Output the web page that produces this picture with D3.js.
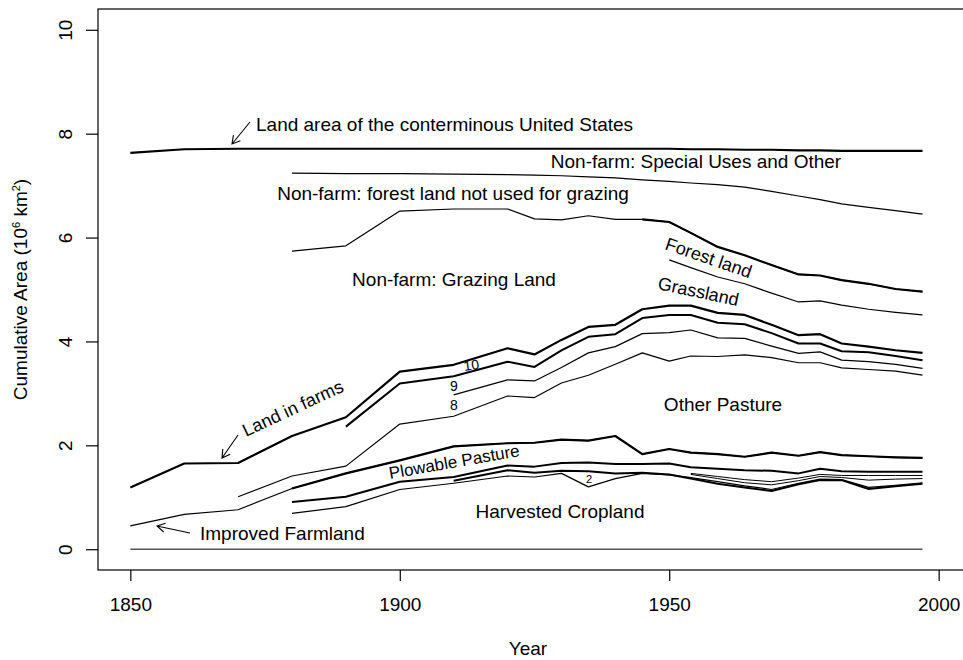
<!DOCTYPE html>
<html>
<head>
<meta charset="utf-8">
<script src="https://cdn.jsdelivr.net/npm/d3@7"></script>
<style>
body { margin: 0; background: #fff; }
svg { display: block; font-family: "Liberation Sans", Arial, Helvetica, sans-serif; }
</style>
</head>
<body>
<svg width="963" height="660"></svg>
<script>
// census years
var years = [1850,1860,1870,1880,1890,1900,1910,1920,1925,1930,1935,1940,1945,1950,1954,1959,1964,1969,1974,1978,1982,1987,1992,1997];
var N = null;
var landArea    = [7.63,7.70,7.71,7.71,7.71,7.71,7.71,7.71,7.71,7.71,7.71,7.71,7.71,7.71,7.70,7.70,7.69,7.69,7.68,7.68,7.67,7.67,7.67,7.67];
var specialUses = [N,N,N,7.24,7.23,7.23,7.22,7.21,7.20,7.19,7.17,7.15,7.11,7.08,7.05,7.02,6.97,6.89,6.80,6.73,6.65,6.58,6.52,6.45];
var grazingTop  = [N,N,N,5.74,5.84,6.51,6.55,6.55,6.36,6.34,6.42,6.35,6.35,6.30,6.09,5.82,5.66,5.47,5.29,5.27,5.18,5.11,5.01,4.96];
var grassland   = [N,N,N,N,N,N,N,N,N,N,N,N,N,5.57,5.42,5.24,5.11,4.93,4.76,4.78,4.70,4.62,4.56,4.51];
var landInFarms = [1.19,1.65,1.66,2.18,2.54,3.42,3.55,3.87,3.75,4.03,4.28,4.32,4.62,4.69,4.69,4.55,4.51,4.32,4.12,4.14,3.96,3.90,3.83,3.78];
var farm10      = [N,N,N,N,2.36,3.19,3.33,3.61,3.51,3.83,4.09,4.14,4.45,4.51,4.51,4.36,4.33,4.16,3.96,3.96,3.81,3.79,3.72,3.64];
var farm9       = [N,N,N,N,N,N,2.97,3.26,3.24,3.50,3.78,3.90,4.15,4.17,4.22,4.07,4.06,3.91,3.77,3.80,3.64,3.61,3.56,3.48];
var farm8       = [N,N,1.01,1.41,1.60,2.41,2.56,2.95,2.92,3.20,3.35,3.56,3.78,3.62,3.72,3.71,3.74,3.69,3.59,3.59,3.49,3.46,3.43,3.35];
var improved    = [0.45,0.67,0.76,1.17,1.46,1.71,1.98,2.04,2.05,2.11,2.09,2.18,1.83,1.93,1.86,1.83,1.78,1.86,1.80,1.87,1.81,1.79,1.77,1.76];
var plowable    = [N,N,N,0.91,1.01,1.30,1.39,1.61,1.59,1.66,1.67,1.64,1.64,1.65,1.58,1.55,1.52,1.51,1.46,1.55,1.50,1.49,1.49,1.49];
var cropC       = [N,N,N,0.69,0.82,1.15,1.27,1.41,1.39,1.46,1.20,1.36,1.46,1.43,1.38,1.30,1.22,1.15,1.27,1.35,1.34,1.19,1.23,1.28];
var cropD       = [N,N,N,N,N,N,1.32,1.52,1.47,1.51,1.50,1.46,1.47,1.44,1.36,1.26,1.19,1.12,1.25,1.33,1.33,1.16,1.21,1.26];
var cropE1      = [N,N,N,N,N,N,N,N,N,N,N,N,N,N,1.46,1.40,1.34,1.30,1.37,1.44,1.42,1.42,1.42,1.42];
var cropE2      = [N,N,N,N,N,N,N,N,N,N,N,N,N,N,1.44,1.36,1.28,1.24,1.32,1.40,1.38,1.33,1.35,1.36];
var zeroLine    = [0,0,0,0,0,0,0,0,0,0,0,0,0,0,0,0,0,0,0,0,0,0,0,0];
var xTicks = [1850,1900,1950,2000];
var yTicks = [0,2,4,6,8,10];

var svg = d3.select('svg');
var x = d3.scaleLinear().domain([1844,2006]).range([98,971]);
var y = d3.scaleLinear().domain([-0.4,10.4]).range([570,9]);

var line = d3.line()
  .defined(function(d){ return d[1] != null; })
  .x(function(d){ return x(d[0]); })
  .y(function(d){ return y(d[1]); });

function draw(vals, w, col) {
  var pts = years.map(function(yr,i){ return [yr, vals[i]]; });
  svg.append('path').attr('d', line(pts)).attr('fill','none')
    .attr('stroke', col || 'black').attr('stroke-width', w)
    .attr('stroke-linejoin','round');
}

draw(zeroLine, 1.5, '#555');
draw(landArea, 2.2);
draw(specialUses, 1.2);
draw(grazingTop, 1.2);
// forest land part drawn heavier
draw(grazingTop.map(function(v,i){ return years[i] >= 1945 ? v : null; }), 2.2);
draw(grassland, 1.2);
draw(landInFarms, 2.2);
draw(farm10, 2);
draw(farm9, 1.2);
draw(farm8, 1.2);
draw(improved, 1.2);
draw(improved.map(function(v,i){ return years[i] >= 1880 ? v : null; }), 2.2);
draw(plowable, 2);
draw(cropC, 1.2);
draw(cropD, 2);
draw(cropE1, 1);
draw(cropE2, 1);

// box
svg.append('rect').attr('x',98).attr('y',9).attr('width',873).attr('height',561)
  .attr('fill','none').attr('stroke','black').attr('stroke-width',1.2);

// axes
var ax = svg.append('g').attr('transform','translate(0,570)')
  .call(d3.axisBottom(x).tickValues(xTicks).tickSize(11).tickFormat(d3.format('d')));
ax.select('.domain').remove();
ax.selectAll('line').attr('stroke','black').attr('stroke-width',1.2);
ax.selectAll('text').attr('y',41).attr('dy',null).attr('font-size',19).attr('font-family',null).attr('fill','black');

var ay = svg.append('g').attr('transform','translate(98,0)')
  .call(d3.axisLeft(y).tickValues(yTicks).tickSize(12));
ay.select('.domain').remove();
ay.selectAll('line').attr('stroke','black').attr('stroke-width',1.2);
ay.selectAll('text').attr('x',0).attr('y',-26).attr('dy',null)
  .attr('transform','rotate(-90)').attr('text-anchor','middle')
  .attr('font-size',19).attr('font-family',null).attr('fill','black');

svg.append('text').attr('x',528).attr('y',655).attr('text-anchor','middle')
  .attr('font-size',19).text('Year');
var yt = svg.append('text').attr('transform','translate(27,289.5) rotate(-90)')
  .attr('text-anchor','middle').attr('font-size',19);
yt.append('tspan').text('Cumulative Area (10');
yt.append('tspan').attr('font-size',11).attr('dy',-7).text('6');
yt.append('tspan').attr('dy',7).text(' km');
yt.append('tspan').attr('font-size',11).attr('dy',-7).text('2');
yt.append('tspan').attr('dy',7).text(')');

// labels
function label(txt, px, py, anchor, rot, size) {
  svg.append('text')
    .attr('transform','translate(' + px + ',' + py + ') rotate(' + (rot || 0) + ')')
    .attr('text-anchor', anchor).attr('font-size', size || 19).text(txt);
}
label('Land area of the conterminous United States', 256, 131, 'start');
label('Non-farm: Special Uses and Other', 696, 168, 'middle');
label('Non-farm: forest land not used for grazing', 453, 200, 'middle');
label('Non-farm: Grazing Land', 454, 286, 'middle');
label('Forest land', 664, 249, 'start', 19, 18);
label('Grassland', 657, 289, 'start', 12, 18);
label('Other Pasture', 723, 411, 'middle');
label('Harvested Cropland', 560, 518, 'middle');
label('Improved Farmland', 200, 540, 'start');
label('Plowable Pasture', 390, 479, 'start', -10, 17);
label('Land in farms', 246, 437, 'start', -25, 18);
label('10', 472, 370, 'middle', -8, 14);
label('9', 454, 391, 'middle', 0, 14);
label('8', 454, 410, 'middle', 0, 14);
label('2', 589, 483, 'middle', 0, 11);

// arrows
function arrow(x1, y1, x2, y2) {
  var a = Math.atan2(y2 - y1, x2 - x1), h = 9, s = Math.PI / 6;
  var p = 'M' + x1 + ',' + y1 + 'L' + x2 + ',' + y2 +
    'M' + (x2 - h * Math.cos(a - s)) + ',' + (y2 - h * Math.sin(a - s)) + 'L' + x2 + ',' + y2 +
    'L' + (x2 - h * Math.cos(a + s)) + ',' + (y2 - h * Math.sin(a + s));
  svg.append('path').attr('d', p).attr('fill','none').attr('stroke','black').attr('stroke-width',1.1);
}
arrow(250, 122, 232, 144);
arrow(238, 435, 222, 458);
arrow(190, 533, 157, 526);
</script>
</body>
</html>
